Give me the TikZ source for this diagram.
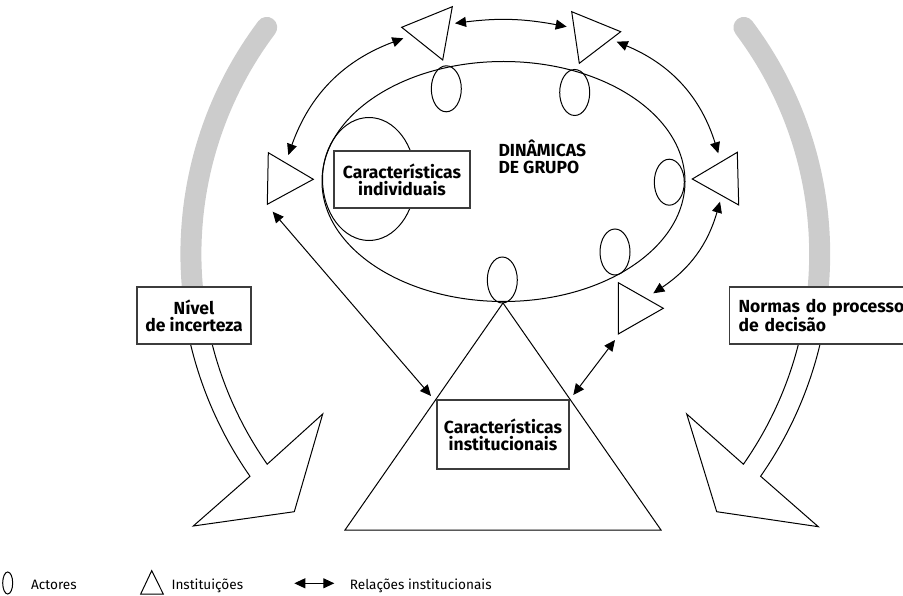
\documentclass[tikz,border=0pt]{standalone}
\usepackage{fontspec}
\setmainfont{Fira Sans}
\usetikzlibrary{arrows.meta,shapes.geometric,positioning}
\definecolor{arcgrey}{RGB}{204,204,204}
\definecolor{boxline}{RGB}{60,60,60}

\tikzset{
  actor/.style={draw, ellipse, minimum width=30pt, minimum height=46pt, inner sep=0pt},
  label box/.style={draw=boxline, line width=1.2pt, fill=white, align=center, inner sep=0pt,
    font=\fontsize{17.5}{16.9}\selectfont\bfseries},
  legend text/.style={inner sep=0pt, anchor=base west, font=\fontsize{13.6}{16}\selectfont},
}

\begin{document}
\begin{tikzpicture}[x=1pt, y=-1pt, >={Triangle[length=11pt,width=10pt]}, line width=1pt]
    \useasboundingbox (0,0) rectangle (903,596);

    % Grey arcs
    \draw[arcgrey, line width=21pt, line cap=round]
        plot[domain=217:172, samples=40] ({567.4+376.5*cos(\x)}, {254+376.5*sin(\x)});
    \draw[arcgrey, line width=21pt, line cap=round]
        plot[domain=-37:8, samples=40] ({443.2+376.5*cos(\x)}, {254+376.5*sin(\x)});

    % Block arrows
    \draw[fill=white] plot[domain=170:145, samples=30] ({567.4+387.5*cos(\x)}, {254+387.5*sin(\x)})
        -- (193.3,526) -- (294.3,511.7) -- (322.7,414)
        -- plot[domain=145:170, samples=30] ({567.4+366.5*cos(\x)}, {254+366.5*sin(\x)}) -- cycle;
    \draw[fill=white] plot[domain=10:35, samples=30] ({443.2+387.5*cos(\x)}, {254+387.5*sin(\x)})
        -- (818.3,526.7) -- (716.7,511.7) -- (686.7,414)
        -- plot[domain=35:10, samples=30] ({443.2+366.5*cos(\x)}, {254+366.5*sin(\x)}) -- cycle;

    \node[label box, minimum width=114pt, minimum height=57pt] (incerteza) at (194,315.5) {Nível\\de incerteza};
    \node[label box, anchor=west, minimum height=57pt, text width=170pt, align=left, inner xsep=9pt]
        (normas) at (729,315.5) {Normas do processo\\de decisão};

    % Group dynamics
    \node[draw, ellipse, minimum width=363pt, minimum height=240pt, inner sep=0pt] (grupo) at (503.5,181.5) {};
    \node[draw, ellipse, minimum width=93pt, minimum height=123pt, inner sep=0pt] (indiv) at (369,179) {};
    \node[label box, minimum width=136pt, minimum height=57pt] (indivbox) at (402,179.5) {Características\\individuais};
    \node[anchor=north west, inner sep=0pt, align=left, font=\fontsize{17.5}{17}\selectfont\bfseries]
        (dinamicas) at (498,139.5) {DINÂMICAS\\DE GRUPO};

    % Actors
    \node[actor] (a1) at (446.3,88.8) {};
    \node[actor] (a2) at (574.7,92.5) {};
    \node[actor] (a3) at (669.3,182.2) {};
    \node[actor] (a4) at (615,252) {};
    \node[actor] (a5) at (502.3,280) {};

    % Institutions
    \draw (401.7,27.3) -- (452.3,6.7) -- (442.7,60) -- cycle;
    \draw (571.7,11.7) -- (620.7,31.7) -- (579.3,63.3) -- cycle;
    \draw (268.3,152.7) -- (313.3,179.3) -- (267.3,204.3) -- cycle;
    \draw (692.3,179) -- (737.3,152.3) -- (738.7,205) -- cycle;
    \draw (618.3,282.7) -- (663.3,308.3) -- (618.3,334) -- cycle;
    \draw (503,303) -- (345,530) -- (661,530) -- cycle;
    \node[label box, minimum width=132pt, minimum height=69pt] (instbox) at (503,434.5) {Características\\institucionais};

    % Institutional relations
    \coordinate (t1r) at (455,23.3);
    \coordinate (t2l) at (566.7,26.7);
    \coordinate (t1b) at (403.3,38.3);
    \coordinate (t3t) at (288.3,155);
    \coordinate (t2b) at (616.7,41.7);
    \coordinate (t4t) at (718.3,153.3);
    \coordinate (t4b) at (720,201.7);
    \coordinate (t5t) at (653.3,293.3);
    \coordinate (t3b) at (272.7,211.7);
    \coordinate (instl) at (431,396);
    \coordinate (t5b) at (615,340);
    \coordinate (instr) at (573.3,395);
    \draw[<->] (t1r) to[bend left=9] (t2l);
    \draw[<->] (t1b) to[bend right=25] (t3t);
    \draw[<->] (t2b) to[bend left=25] (t4t);
    \draw[<->] (t4b) to[bend left=20] (t5t);
    \draw[<->] (t3b) -- (instl);
    \draw[<->] (t5b) -- (instr);

    % Legend
    \node[draw, ellipse, minimum width=10pt, minimum height=22pt, inner sep=0pt] (legactor) at (7.7,583) {};
    \node[legend text] (legactortxt) at (30.7,589.3) {Actores};
    \draw (140.7,594) -- (163.3,594) -- (151.7,570.7) -- cycle;
    \node[legend text] (leginsttxt) at (171,589.3) {Instituições};
    \coordinate (legl) at (294.3,583.3);
    \coordinate (legr) at (334.3,583.3);
    \draw[<->] (legl) -- (legr);
    \node[legend text] (legreltxt) at (349.3,589.3) {Relações institucionais};
\end{tikzpicture}
\end{document}
